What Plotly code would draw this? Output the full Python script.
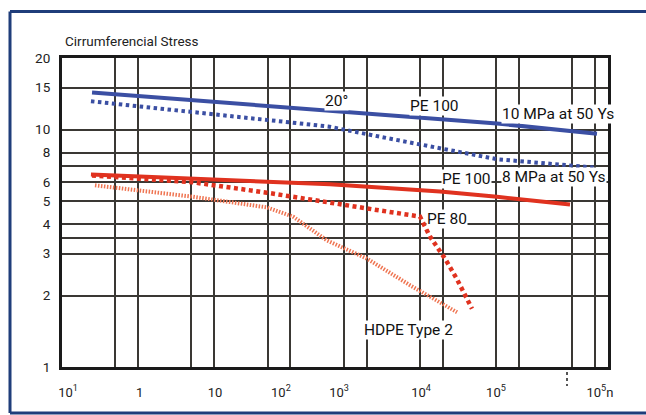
import plotly.graph_objects as go

# ---- data (log-log scales) ----
time_pe100_10 = [0.248, 5.1, 311, 5020, 51500, 1.06e6]
stress_pe100_10 = [14.3, 13.3, 12.0, 11.3, 10.6, 9.6]

time_pe100_8 = [0.24, 5.1, 311, 1850, 11400, 51500, 1.06e6]
stress_pe100_8 = [13.15, 11.85, 10.3, 9.2, 8.2, 7.5, 6.9]

time_pe100_red = [0.24, 5.1, 49, 330, 9200, 51500, 469000]
stress_pe100_red = [6.46, 6.18, 6.03, 5.88, 5.48, 5.21, 4.83]

time_pe80 = [0.248, 1.0, 5.1, 49, 311, 1210, 5020, 6800, 10700, 15400, 24200]
stress_pe80 = [6.4, 6.21, 6.0, 5.42, 4.91, 4.61, 4.30, 3.54, 2.86, 2.34, 1.76]

time_hdpe = [0.271, 5.25, 49, 108, 302, 1010, 3720, 15400]
stress_hdpe = [5.82, 5.21, 4.70, 4.30, 3.41, 2.86, 2.21, 1.70]

y_tickvals = [1, 2, 3, 3.5, 4, 5, 6, 7, 8, 10, 15, 20]
y_ticktext = ["1", "2", "3", "", "4", "5", "6", "", "8", "10", "15", "20"]

x_label_pos = [0.12, 1.05, 10.2, 75, 435, 5180, 50000, 1.16e6]
x_label_text = ["10<sup>1</sup>", "1", "10", "10<sup>2</sup>", "10<sup>3</sup>",
                "10<sup>4</sup>", "10<sup>5</sup>", "10<sup>5</sup>n"]
x_grid_vals = [0.5, 1, 5, 10, 50, 100, 500, 1000, 5000, 1e4, 5e4, 1e5, 5e5, 1e6]

FONT = "Roboto"
BLUE = "#3b4fa3"
RED = "#e0321f"
ORANGE = "#ef7552"
GRID = "#3a3834"

fig = go.Figure()
fig.add_trace(go.Scatter(x=time_pe100_10, y=stress_pe100_10, mode="lines",
                         line=dict(color=BLUE, width=4), hoverinfo="skip"))
fig.add_trace(go.Scatter(x=time_pe100_8, y=stress_pe100_8, mode="lines",
                         line=dict(color=BLUE, width=4, dash="3.5px,3.5px"), hoverinfo="skip"))
fig.add_trace(go.Scatter(x=time_pe100_red, y=stress_pe100_red, mode="lines",
                         line=dict(color=RED, width=4), hoverinfo="skip"))
fig.add_trace(go.Scatter(x=time_pe80, y=stress_pe80, mode="lines",
                         line=dict(color=RED, width=4.5, dash="4px,3.5px"), hoverinfo="skip"))
fig.add_trace(go.Scatter(x=time_hdpe, y=stress_hdpe, mode="lines",
                         line=dict(color=ORANGE, width=4, dash="1.5px,1.5px"), hoverinfo="skip"))

fig.update_layout(
    width=646, height=415,
    margin=dict(l=62, r=38, t=58, b=48),
    paper_bgcolor="white", plot_bgcolor="white",
    showlegend=False,
    font=dict(family=FONT, size=13, color="#222"),
)

fig.update_xaxes(
    type="log", range=[-1, 6.17],
    tickmode="array", tickvals=x_label_pos, ticktext=x_label_text,
    showgrid=False, ticks="", ticklabelstandoff=11,
    tickfont=dict(size=13, color="#222"),
    showline=True, linewidth=3, linecolor="#1a1a1a", mirror=True,
    minor=dict(tickmode="array", tickvals=x_grid_vals, showgrid=True,
               gridcolor=GRID, gridwidth=2, ticks=""),
    zeroline=False, fixedrange=True,
)
fig.update_yaxes(
    type="log", range=[0, 1.30103],
    tickmode="array", tickvals=y_tickvals, ticktext=y_ticktext,
    showgrid=True, gridcolor=GRID, gridwidth=2,
    ticks="", ticklabelstandoff=6,
    tickfont=dict(size=13.5, color="#222"),
    showline=True, linewidth=3, linecolor="#1a1a1a", mirror=True,
    zeroline=False, fixedrange=True,
)

def px2paper(px, py):
    return (px - 62) / 546.0, (367 - py) / 309.0

labels = [
    ("20°", 336, 101),
    ("PE 100", 434, 106),
    ("10 MPa at 50 Ys", 558, 114),
    ("8 MPa at 50 Ys", 554, 177),
    ("PE 100", 466, 179),
    ("PE 80", 447, 219),
    ("HDPE Type 2", 408, 330),
]
for text, px, py in labels:
    ax_, ay_ = px2paper(px, py)
    fig.add_annotation(x=ax_, y=ay_, xref="paper", yref="paper", text=text,
                       showarrow=False, font=dict(family=FONT, size=15.5, color="#111"),
                       bgcolor="white", borderpad=0, xanchor="center", yanchor="middle")

# axis title
tx, ty = px2paper(63, 41)
fig.add_annotation(x=tx, y=ty, xref="paper", yref="paper", text="Cirrumferencial Stress",
                   showarrow=False, font=dict(family=FONT, size=13.5, color="#222"),
                   xanchor="left", yanchor="middle")

# gaps in grid (as in the drawing)
g0 = px2paper(328, 149)
g1 = px2paper(385, 139)
fig.add_shape(type="rect", xref="paper", yref="paper", x0=g0[0], x1=g1[0], y0=g0[1], y1=g1[1],
              fillcolor="white", line=dict(width=0), layer="between")
h0 = px2paper(262, 183)
h1 = px2paper(297, 168)
fig.add_shape(type="rect", xref="paper", yref="paper", x0=h0[0], x1=h1[0], y0=h0[1], y1=h1[1],
              fillcolor="white", line=dict(width=0), layer="between")

# small dotted mark below axis
d0 = px2paper(567, 372)
d1 = px2paper(567, 386)
fig.add_shape(type="line", xref="paper", yref="paper", x0=d0[0], x1=d1[0], y0=d0[1], y1=d1[1],
              line=dict(color="#555", width=2, dash="dot"))

# blue outer frame
BF = "#1f3d7a"
L = px2paper(10, 11.5)
B = px2paper(646, 413)
fig.add_shape(type="line", xref="paper", yref="paper", x0=L[0], x1=L[0], y0=B[1], y1=L[1],
              line=dict(color=BF, width=3))
fig.add_shape(type="line", xref="paper", yref="paper", x0=L[0], x1=B[0], y0=L[1], y1=L[1],
              line=dict(color=BF, width=3))
fig.add_shape(type="line", xref="paper", yref="paper", x0=L[0], x1=B[0], y0=B[1], y1=B[1],
              line=dict(color=BF, width=3))

fig.write_html("out.html")
